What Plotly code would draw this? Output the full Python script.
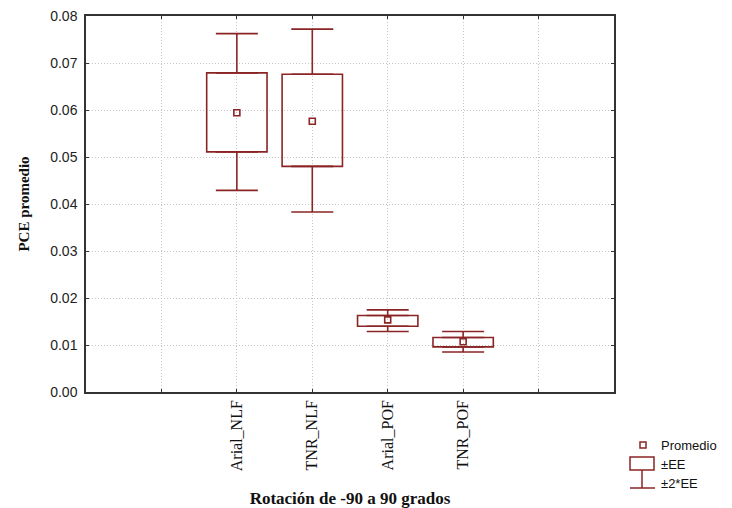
import plotly.graph_objects as go

# ---- data ----
categories = ["Arial_NLF", "TNR_NLF", "Arial_POF", "TNR_POF"]
mean_vals = [0.0594, 0.0576, 0.01535, 0.0107]
ee_low = [0.0511, 0.0480, 0.0140, 0.0096]      # mean - EE
ee_high = [0.0679, 0.0676, 0.01627, 0.0116]    # mean + EE
ee2_low = [0.0429, 0.0383, 0.01287, 0.0085]    # mean - 2*EE
ee2_high = [0.07625, 0.0772, 0.01747, 0.01287] # mean + 2*EE
y_ticks = [0.00, 0.01, 0.02, 0.03, 0.04, 0.05, 0.06, 0.07, 0.08]
legend_labels = ["Promedio", "±EE", "±2*EE"]

RED = "#8b2525"
W, H = 732, 508
OFF = 8  # page body margin
L, T = 86 - OFF, 16 - OFF
PW, PH = 528, 376
R, B = W - L - PW, H - T - PH

positions = list(range(len(categories)))
box_h = [h - l for h, l in zip(ee_high, ee_low)]
up_err = [a - b for a, b in zip(ee2_high, ee_high)]
lo_err = [a - b for a, b in zip(ee_low, ee2_low)]
zeros = [0] * len(categories)

fig = go.Figure()
# ±EE boxes
fig.add_trace(go.Bar(
    x=positions, y=box_h, base=ee_low, width=0.8,
    marker=dict(color="rgba(0,0,0,0)", line=dict(color=RED, width=1.6)),
    showlegend=False, hoverinfo="skip"))
# ±2*EE whiskers (upper and lower)
fig.add_trace(go.Scatter(
    x=positions, y=ee_high, mode="markers", marker=dict(opacity=0, size=1),
    error_y=dict(type="data", symmetric=False, array=up_err, arrayminus=zeros,
                 color=RED, thickness=1.6, width=21),
    showlegend=False, hoverinfo="skip"))
fig.add_trace(go.Scatter(
    x=positions, y=ee_low, mode="markers", marker=dict(opacity=0, size=1),
    error_y=dict(type="data", symmetric=False, array=zeros, arrayminus=lo_err,
                 color=RED, thickness=1.6, width=21),
    showlegend=False, hoverinfo="skip"))
# mean markers
fig.add_trace(go.Scatter(
    x=positions, y=mean_vals, mode="markers",
    marker=dict(symbol="square-open", size=6, color=RED, line=dict(width=1.6, color=RED)),
    showlegend=False, hoverinfo="skip"))

# manual legend (paper coordinates from page pixel positions)
def px(x):
    return (x - OFF - L) / PW
def py(y):
    return (T + PH - (y - OFF)) / PH

shapes = [
    dict(type="rect", xref="paper", yref="paper", x0=px(640), x1=px(646), y0=py(442), y1=py(448),
         line=dict(color=RED, width=1.5)),
    dict(type="rect", xref="paper", yref="paper", x0=px(630), x1=px(654), y0=py(457), y1=py(470),
         line=dict(color=RED, width=1.5)),
    dict(type="line", xref="paper", yref="paper", x0=px(642), x1=px(642), y0=py(470), y1=py(488),
         line=dict(color=RED, width=1.5)),
    dict(type="line", xref="paper", yref="paper", x0=px(630), x1=px(655), y0=py(488), y1=py(488),
         line=dict(color=RED, width=1.5)),
]
annotations = []
for lbl, yy in zip(legend_labels, [445, 464, 483]):
    annotations.append(dict(text=lbl, xref="paper", yref="paper", x=px(659), y=py(yy),
                            xanchor="left", yanchor="middle", showarrow=False,
                            font=dict(family="Liberation Sans, Arial", size=13, color="#111")))

GRID = "#c4c4c4"
fig.update_layout(
    width=W, height=H, margin=dict(l=L, r=R, t=T, b=B, autoexpand=False),
    paper_bgcolor="white", plot_bgcolor="white",
    shapes=shapes, annotations=annotations, showlegend=False, barmode="overlay",
    xaxis=dict(
        range=[-2, 5], tickmode="array", tickvals=[-1] + positions + [4],
        ticktext=[""] + categories + [""], tickangle=-90,
        tickfont=dict(family="Liberation Serif, Times New Roman", size=16, color="#111"),
        showgrid=True, gridcolor=GRID, griddash="1px,2px", gridwidth=1,
        showline=True, linecolor="#333", linewidth=1.5, mirror="allticks",
        ticks="inside", ticklen=3, tickcolor="#333", zeroline=False,
        title=dict(text="<b>Rotación de -90 a 90 grados</b>", standoff=22,
                   font=dict(family="Liberation Serif, Times New Roman", size=17, color="#111"))),
    yaxis=dict(
        range=[0, 0.08], tickmode="array", tickvals=y_ticks, tickformat=".2f",
        tickfont=dict(family="Liberation Sans, Arial", size=14, color="#222"),
        showgrid=True, gridcolor=GRID, griddash="1px,2px", gridwidth=1,
        showline=True, linecolor="#333", linewidth=1.5, mirror="allticks",
        ticks="inside", ticklen=3, tickcolor="#333", zeroline=False, ticklabelstandoff=4,
        ticklabeloverflow="allow",
        title=dict(text="<b>PCE promedio</b>", standoff=17,
                   font=dict(family="Liberation Serif, Times New Roman", size=15, color="#111"))),
)

fig.write_html("out.html")
